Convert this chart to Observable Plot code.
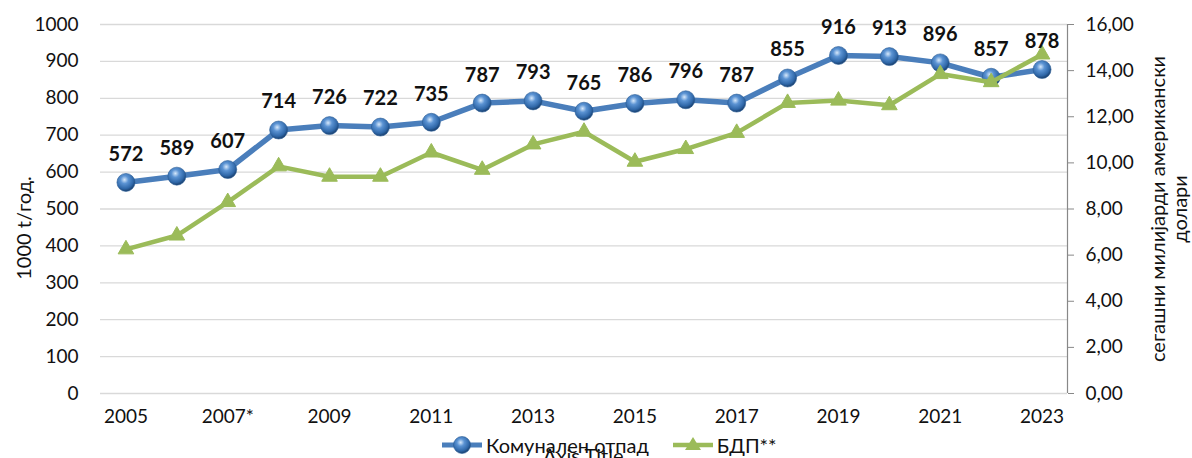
<!DOCTYPE html>
<html><head><meta charset="utf-8">
<script src="https://cdn.jsdelivr.net/npm/d3@7"></script>
<script src="https://cdn.jsdelivr.net/npm/@observablehq/plot@0.6"></script>
<style>
html,body{margin:0;padding:0;background:#fff;overflow:hidden}
#wrap{position:relative;width:1192px;height:458px;overflow:hidden;font-family:Lato,sans-serif;color:#111}
#chart{position:absolute;left:0;top:0}
.ytitle{position:absolute;font-size:20px;white-space:nowrap;text-align:center;line-height:22px}
#legend{position:absolute;top:433px;left:440px;font-size:20px;display:flex;align-items:center;white-space:nowrap}
#legend .item{display:flex;align-items:center;margin-right:18px}
#axistitle{position:absolute;left:543px;top:443px;font-size:20px;color:#111;white-space:nowrap}
</style></head>
<body><div id="wrap">
<div id="chart"></div>
<div id="axistitle">Axis Title</div>
<div id="legend"></div>
</div>
<script>
const years = [2005,2006,2007,2008,2009,2010,2011,2012,2013,2014,2015,2016,2017,2018,2019,2020,2021,2022,2023];
const waste = [572,589,607,714,726,722,735,787,793,765,786,796,787,855,916,913,896,857,878];
const gdp = [6.25,6.85,8.3,9.85,9.4,9.4,10.45,9.7,10.8,11.35,10.05,10.6,11.3,12.6,12.7,12.5,13.85,13.5,14.7];
const xTicks = [2005,2007,2009,2011,2013,2015,2017,2019,2021,2023];
const xTickLabels = ["2005","2007*","2009","2011","2013","2015","2017","2019","2021","2023"];
const yTicks = [0,100,200,300,400,500,600,700,800,900,1000];
const rightTicks = [0,2,4,6,8,10,12,14,16];
const seriesNames = ["Комунален отпад","БДП**"];
const leftTitle = "1000 t/год.";
const rightTitle = ["сегашни милијарди американски","долари"];

const S = 1000 / 16;
const blue = "#4a7ebb", green = "#9bbb59";
const data = years.map((y, i) => ({year: y, waste: waste[i], gdp: gdp[i]}));

function defs() {
  const g = d3.create("svg:defs");
  const rg = g.append("radialGradient").attr("id", "sphere").attr("cx", "42%").attr("cy", "35%").attr("r", "62%");
  rg.append("stop").attr("offset", "0%").attr("stop-color", "#d6e8fb");
  rg.append("stop").attr("offset", "35%").attr("stop-color", "#5b93d3");
  rg.append("stop").attr("offset", "80%").attr("stop-color", "#2f67a8");
  rg.append("stop").attr("offset", "100%").attr("stop-color", "#1d4677");
  return g.node();
}

const chart = Plot.plot({
  width: 1192, height: 430,
  marginLeft: 100, marginRight: 125, marginTop: 24, marginBottom: 37,
  x: {domain: [2004.5, 2023.5]},
  y: {domain: [0, 1000]},
  style: {fontFamily: "Lato, sans-serif", fontSize: "19px", color: "#111", background: "transparent"},
  marks: [
    defs,
    Plot.gridY(yTicks, {stroke: "#d9d9d9", strokeOpacity: 1, strokeWidth: 1.3}),
    Plot.axisY(yTicks, {tickSize: 0, tickPadding: 22, label: null, fontSize: 19, tickFormat: d => String(d)}),
    Plot.axisY(rightTicks.map(v => v * S), {anchor: "right", tickSize: 6, tickPadding: 12, stroke: "#888", label: null, fontSize: 19,
      tickFormat: v => (v / S).toFixed(2).replace(".", ",")}),
    Plot.ruleX([2023.5], {y1: 0, y2: 1000, stroke: "#888", strokeWidth: 1.2}),
    Plot.axisX(xTicks, {tickSize: 0, tickPadding: 16, label: null, fontSize: 19,
      tickFormat: d => xTickLabels[xTicks.indexOf(d)]}),
    Plot.line(data, {x: "year", y: "waste", stroke: blue, strokeWidth: 5.5}),
    Plot.dot(data, {x: "year", y: "waste", r: 9, fill: "url(#sphere)", stroke: "#2a5c96", strokeWidth: 0.6}),
    Plot.line(data, {x: "year", y: d => d.gdp * S, stroke: green, strokeWidth: 4.5}),
    Plot.dot(data, {x: "year", y: d => d.gdp * S, symbol: "triangle", r: 5.8, fill: green, stroke: green, strokeWidth: 1}),
    Plot.text(data, {x: "year", y: "waste", text: d => String(d.waste), dy: -28, fontWeight: "bold", fontSize: 20, fill: "#111"})
  ]
});
document.getElementById("chart").appendChild(chart);

// axis titles
const wrap = document.getElementById("wrap");
const lt = document.createElement("div");
lt.className = "ytitle";
lt.textContent = leftTitle;
lt.style.left = "23px"; lt.style.top = "228px";
lt.style.transform = "translate(-50%,-50%) rotate(-90deg)";
wrap.appendChild(lt);
const rt = document.createElement("div");
rt.className = "ytitle";
rt.innerHTML = rightTitle.join("<br>");
rt.style.left = "1168px"; rt.style.top = "209px";
rt.style.transform = "translate(-50%,-50%) rotate(-90deg)";
wrap.appendChild(rt);

// legend
const leg = document.getElementById("legend");
leg.innerHTML =
  `<div class="item"><svg width="44" height="20"><defs><radialGradient id="sphere2" cx="42%" cy="35%" r="62%"><stop offset="0%" stop-color="#d6e8fb"/><stop offset="35%" stop-color="#5b93d3"/><stop offset="80%" stop-color="#2f67a8"/><stop offset="100%" stop-color="#1d4677"/></radialGradient></defs><line x1="2" x2="42" y1="10" y2="10" stroke="${blue}" stroke-width="5"/><circle cx="22" cy="10" r="8.5" fill="url(#sphere2)" stroke="#2a5c96" stroke-width="0.6"/></svg><span style="margin-left:2px">${seriesNames[0]}</span></div>` +
  `<div class="item" style="margin-left:4px"><svg width="44" height="20"><line x1="2" x2="42" y1="10" y2="10" stroke="${green}" stroke-width="4.5"/><path d="M22,2 L30,15 L14,15 Z" fill="${green}"/></svg><span style="margin-left:2px">${seriesNames[1]}</span></div>`;
</script>
</body></html>
